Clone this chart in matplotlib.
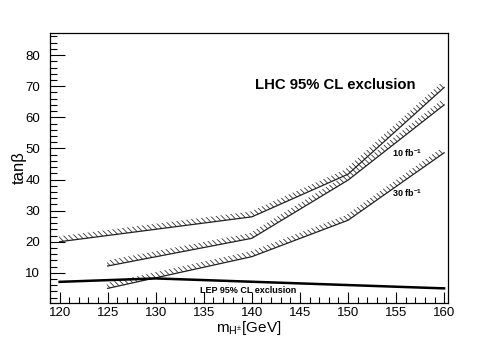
import matplotlib
matplotlib.use("Agg")
import numpy as np
import matplotlib.pyplot as plt
from matplotlib.patches import Polygon
from matplotlib.ticker import MultipleLocator

plt.rcParams['font.family'] = ['Liberation Sans', 'DejaVu Sans']
plt.rcParams['mathtext.fontset'] = 'custom'
plt.rcParams['mathtext.rm'] = 'Liberation Sans'
plt.rcParams['mathtext.it'] = 'Liberation Sans:italic'
plt.rcParams['mathtext.bf'] = 'Liberation Sans:bold'
plt.rcParams['hatch.linewidth'] = 0.6

# LHC exclusion curves
lhc_top_x = [120, 140, 150, 160]
lhc_top_y = [20.0, 28.0, 41.7, 69.6]
lhc_10_x = [125, 140, 150, 160]
lhc_10_y = [12.2, 21.1, 39.8, 64.0]
lhc_30_x = [125, 140, 150, 160]
lhc_30_y = [5.0, 15.2, 26.9, 48.6]
# LEP exclusion
lep_x = [120, 130, 160]
lep_y = [7.1, 8.2, 5.0]

fig = plt.figure(figsize=(4.98, 3.38), dpi=100)
ax = fig.add_axes([50/498, 35/338, 398/498, 270/338])
ax.set_xlim(119.0, 160.4)
ax.set_ylim(0.3, 87.1)


def hatch_band(ax, xs, ys, width_px=5.5):
    """ROOT-style exclusion band: hatched strip on the upper-left side of the curve."""
    pts = ax.transData.transform(np.column_stack([xs, ys]))
    n = len(pts)
    normals = []
    for i in range(n - 1):
        d = pts[i + 1] - pts[i]
        d = d / np.hypot(*d)
        normals.append(np.array([-d[1], d[0]]))
    off = []
    for i in range(n):
        if i == 0:
            off.append(pts[i] + normals[0] * width_px)
        elif i == n - 1:
            off.append(pts[i] + normals[-1] * width_px)
        else:
            m = normals[i - 1] + normals[i]
            m = m / np.hypot(*m)
            scale = width_px / np.dot(m, normals[i])
            off.append(pts[i] + m * scale)
    poly_px = np.vstack([pts, np.array(off)[::-1]])
    poly = ax.transData.inverted().transform(poly_px)
    ax.add_patch(Polygon(poly, closed=True, facecolor='none', edgecolor='#333333',
                         linewidth=0, hatch='\\' * 6))


fig.canvas.draw()
for xs, ys in [(lhc_top_x, lhc_top_y), (lhc_10_x, lhc_10_y), (lhc_30_x, lhc_30_y)]:
    hatch_band(ax, xs, ys)
    ax.plot(xs, ys, color='#222222', lw=0.9)

ax.plot(lep_x, lep_y, color='black', lw=1.8)

ax.xaxis.set_major_locator(MultipleLocator(5))
ax.xaxis.set_minor_locator(MultipleLocator(1))
ax.yaxis.set_minor_locator(MultipleLocator(2))
ax.set_yticks([10, 20, 30, 40, 50, 60, 70, 80])

ax.tick_params(axis='x', which='major', direction='in', length=8, width=0.8, pad=3,
               labelsize=9.5, top=False)
ax.tick_params(axis='x', which='minor', direction='in', length=4, width=0.8, top=False)
ax.tick_params(axis='y', which='major', direction='in', length=11, width=0.8, pad=7,
               labelsize=9.5, right=False)
ax.tick_params(axis='y', which='minor', direction='in', length=5, width=0.8, right=False)
for s in ax.spines.values():
    s.set_linewidth(0.9)

ax.set_xlabel(r'$\mathregular{m_{H^{\pm}}}$[GeV]', fontsize=11)
ax.xaxis.set_label_coords(0.5, -0.058)
ax.set_ylabel('tanβ', fontsize=12)
ax.yaxis.set_label_coords(-0.058, 0.5)

ax.text(140.3, 70.4, 'LHC 95% CL exclusion', fontsize=10.7, fontweight='bold',
        va='center', ha='left')
ax.text(154.6, 48.5, r'10 fb$^{\mathbf{-1}}$', fontsize=6.5, fontweight='bold',
        va='center', ha='left')
ax.text(154.6, 35.6, r'30 fb$^{\mathbf{-1}}$', fontsize=6.5, fontweight='bold',
        va='center', ha='left')
ax.text(134.6, 4.4, 'LEP 95% CL exclusion', fontsize=6.5, fontweight='bold',
        va='center', ha='left')

fig.savefig('out.png', dpi=100)
